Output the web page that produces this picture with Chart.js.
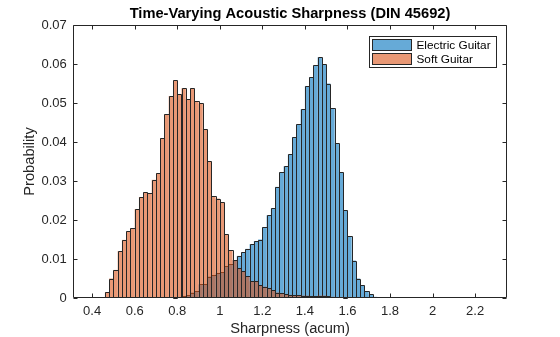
<!DOCTYPE html>
<html>
<head>
<meta charset="utf-8">
<script src="https://cdn.jsdelivr.net/npm/chart.js@4.4.1/dist/chart.umd.min.js"></script>
<style>
html,body{margin:0;padding:0;background:#fff;}
#wrap{width:560px;height:337px;position:relative;}
</style>
</head>
<body>
<div id="wrap"><canvas id="c" width="560" height="337"></canvas></div>
<script>
// ---- data (bin left edges, bin width 0.02 acum) ----
const binLeftEdges = [0.46,0.48,0.50,0.52,0.54,0.56,0.58,0.60,0.62,0.64,0.66,0.68,0.70,0.72,0.74,0.76,
  0.78,0.80,0.82,0.84,0.86,0.88,0.90,0.92,0.94,0.96,0.98,1.00,1.02,1.04,1.06,1.08,
  1.10,1.12,1.14,1.16,1.18,1.20,1.22,1.24,1.26,1.28,1.30,1.32,1.34,1.36,1.38,1.40,
  1.42,1.44,1.46,1.48,1.50,1.52,1.54,1.56,1.58,1.60,1.62,1.64,1.66,1.68,1.70,1.72];
const binWidth = 0.02;

const electricGuitar = [null,null,null,null,null,null,null,null,null,null,null,null,null,null,null,null,
  0.0001,0.0002,0.0004,0.0007,0.0014,0.0018,0.0035,0.0036,0.0055,0.0059,0.0063,0.0066,0.0082,0.0087,0.0097,0.0108,
  0.0117,0.0126,0.0138,0.0146,0.0150,0.0182,0.0212,0.0230,0.0285,0.0322,0.0338,0.0368,0.0412,0.0445,0.0484,0.0543,
  0.0566,0.0597,0.0617,0.0599,0.0550,0.0486,0.0397,0.0322,0.0225,0.0159,0.0096,0.0050,0.0033,0.0018,0.0009,0.0003];

const softGuitar = [0.0015,0.0050,0.0072,0.0120,0.0149,0.0171,0.0179,0.0228,0.0259,0.0271,0.0268,0.0303,0.0320,0.0410,0.0472,0.0518,
  0.0558,0.0523,0.0538,0.0510,0.0538,0.0504,0.0499,0.0433,0.0351,0.0261,0.0255,0.0245,0.0164,0.0122,0.0097,0.0076,
  0.0068,0.0056,0.0043,0.0043,0.0033,0.0029,0.0025,0.0020,0.0014,0.0012,0.0009,0.0008,0.0007,0.0007,0.0006,0.0006,
  0.0005,0.0004,0.0006,0.0006,0.0005,0.0003,0.0002,0.0002,0.0001,null,null,null,null,null,null,null];

const seriesNames = ['Electric Guitar', 'Soft Guitar'];
const xTickValues = [0.4,0.6,0.8,1.0,1.2,1.4,1.6,1.8,2.0,2.2];
const xTickLabels = ['0.4','0.6','0.8','1','1.2','1.4','1.6','1.8','2','2.2'];
const yTickValues = [0,0.01,0.02,0.03,0.04,0.05,0.06,0.07];
const yTickLabels = ['0','0.01','0.02','0.03','0.04','0.05','0.06','0.07'];

// ---- styling ----
const FONT = "'Liberation Sans', Arial, Helvetica, sans-serif";
const AXC = '#262626';
const blueFill = 'rgba(0,114,189,0.6)';
const orangeFill = 'rgba(217,83,25,0.6)';

function toPoints(vals){
  return binLeftEdges.map((e,i)=>({x: e + binWidth/2, y: vals[i]}));
}

// crisp 1px bar edges, drawn right after each dataset (so later datasets overlay them)
const barEdges = {
  id: 'barEdges',
  afterDatasetDraw(chart, args){
    const meta = args.meta;
    const {ctx} = chart;
    ctx.save();
    ctx.strokeStyle = AXC;
    ctx.lineWidth = 1;
    ctx.beginPath();
    meta.data.forEach((el, i)=>{
      const raw = chart.data.datasets[args.index].data[i];
      if (!raw || raw.y === null || raw.y === undefined) return;
      const p = el.getProps(['x','y','base','width'], true);
      if (!isFinite(p.y)) return;
      const l = Math.round(p.x - p.width/2) + 0.5;
      const r = Math.round(p.x + p.width/2) + 0.5;
      const t = Math.round(p.y) + 0.5;
      const b = Math.round(p.base);
      ctx.moveTo(l, b); ctx.lineTo(l, t); ctx.lineTo(r, t); ctx.lineTo(r, b);
    });
    ctx.stroke();
    ctx.restore();
  }
};

const matlabAxes = {
  id: 'matlabAxes',
  afterDatasetsDraw(chart){
    const {ctx, chartArea:a, scales:{x,y}} = chart;
    ctx.save();
    ctx.strokeStyle = AXC;
    ctx.lineWidth = 1;
    const L = Math.round(a.left)+0.5, R = Math.round(a.right)-0.5;
    const T = Math.round(a.top)+0.5, B = Math.round(a.bottom)-0.5;
    ctx.beginPath();
    ctx.rect(L, T, R-L, B-T);
    const tl = 4;
    xTickValues.forEach(v=>{
      const px = Math.round(x.getPixelForValue(v))+0.5;
      ctx.moveTo(px, B); ctx.lineTo(px, B-tl);
      ctx.moveTo(px, T); ctx.lineTo(px, T+tl);
    });
    yTickValues.forEach(v=>{
      const py = Math.round(y.getPixelForValue(v))+0.5;
      ctx.moveTo(L, py); ctx.lineTo(L+tl, py);
      ctx.moveTo(R, py); ctx.lineTo(R-tl, py);
    });
    ctx.stroke();

    // legend box (upper right, inside axes)
    const lx = 369.5, ly = 36.5, lw = 127, lh = 31;
    ctx.fillStyle = '#fff';
    ctx.fillRect(lx, ly, lw, lh);
    ctx.strokeRect(lx, ly, lw, lh);
    const fills = [blueFill, orangeFill];
    const rows = [39.5, 53.5];
    ctx.font = '11.8px ' + FONT;
    ctx.textBaseline = 'middle';
    ctx.textAlign = 'left';
    seriesNames.forEach((n,i)=>{
      ctx.fillStyle = fills[i];
      ctx.fillRect(372.5, rows[i], 39, 11);
      ctx.strokeStyle = AXC;
      ctx.strokeRect(372.5, rows[i], 39, 11);
      ctx.fillStyle = '#000';
      ctx.fillText(n, 416.5, rows[i]+6);
    });
    ctx.restore();
  }
};

new Chart(document.getElementById('c'), {
  type: 'bar',
  data: {
    datasets: [
      { label: seriesNames[1], data: toPoints(softGuitar), backgroundColor: orangeFill,
        borderWidth: 0, inflateAmount: 0,
        barPercentage: 1, categoryPercentage: 1, grouped: false },
      { label: seriesNames[0], data: toPoints(electricGuitar), backgroundColor: blueFill,
        borderWidth: 0, inflateAmount: 0,
        barPercentage: 1, categoryPercentage: 1, grouped: false }
    ]
  },
  options: {
    responsive: false,
    animation: false,
    events: [],
    layout: { padding: { left: 0, right: 53, top: 0, bottom: 0 } },
    plugins: {
      legend: { display: false },
      tooltip: { enabled: false },
      title: {
        display: true,
        fullSize: false,
        text: 'Time-Varying Acoustic Sharpness (DIN 45692)',
        color: '#000',
        font: { family: FONT, size: 14.67, weight: 'bold', lineHeight: 1.2 },
        padding: { top: 5.2, bottom: 2.2 }
      }
    },
    scales: {
      x: {
        type: 'linear',
        min: 0.31, max: 2.35,
        offset: false,
        grid: { display: false, drawTicks: false },
        border: { display: false },
        afterBuildTicks(s){ s.ticks = xTickValues.map(v=>({value:v})); },
        ticks: {
          color: AXC, padding: 5.9, maxRotation: 0, autoSkip: false,
          font: { family: FONT, size: 13, lineHeight: 1.2 },
          callback(v){ const i = xTickValues.findIndex(t=>Math.abs(t-v)<1e-9); return i>=0 ? xTickLabels[i] : ''; }
        },
        afterFit(s){ s.height = 39; },
        title: { display: true, text: 'Sharpness (acum)', color: AXC,
          font: { family: FONT, size: 14.67, lineHeight: 1 }, padding: { top: 0, bottom: 0.4 } }
      },
      y: {
        min: 0, max: 0.07,
        grid: { display: false, drawTicks: false },
        border: { display: false },
        afterBuildTicks(s){ s.ticks = yTickValues.map(v=>({value:v})); },
        ticks: {
          color: AXC, padding: 6.2, autoSkip: false,
          font: { family: FONT, size: 13 },
          callback(v){ const i = yTickValues.findIndex(t=>Math.abs(t-v)<1e-9); return i>=0 ? yTickLabels[i] : ''; }
        },
        afterFit(s){ s.width = 73; },
        title: { display: true, text: 'Probability', color: AXC,
          font: { family: FONT, size: 14.67, lineHeight: 1 }, padding: { top: 22.7, bottom: 0 } }
      }
    }
  },
  plugins: [barEdges, matlabAxes]
});
</script>
</body>
</html>
